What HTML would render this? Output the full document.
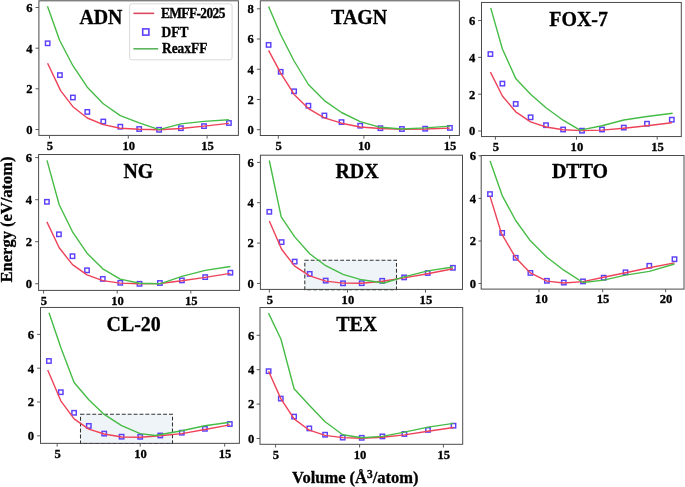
<!DOCTYPE html>
<html><head><meta charset="utf-8"><title>EOS curves</title>
<style>
html,body{margin:0;padding:0;background:#fff;}
body{width:685px;height:487px;overflow:hidden;}
svg{display:block;will-change:transform;}
text{font-family:'Liberation Serif', serif;font-weight:bold;fill:#000;stroke:#000;stroke-width:0.3px;}
.t{font-size:12.6px;}
.ttl{font-size:19.9px;}
.lg{font-size:13.4px;}
.al{font-size:16.5px;}
</style></head>
<body>
<svg width="685" height="487" viewBox="0 0 685 487">
<rect width="685" height="487" fill="#fff"/>
<rect x="45.45" y="41.10" width="4.4" height="4.4" fill="none" stroke="#5c40fa" stroke-width="1.45"/>
<rect x="57.70" y="72.90" width="4.4" height="4.4" fill="none" stroke="#5c40fa" stroke-width="1.45"/>
<rect x="70.70" y="95.30" width="4.4" height="4.4" fill="none" stroke="#5c40fa" stroke-width="1.45"/>
<rect x="85.10" y="109.70" width="4.4" height="4.4" fill="none" stroke="#5c40fa" stroke-width="1.45"/>
<rect x="101.10" y="119.30" width="4.4" height="4.4" fill="none" stroke="#5c40fa" stroke-width="1.45"/>
<rect x="118.10" y="124.50" width="4.4" height="4.4" fill="none" stroke="#5c40fa" stroke-width="1.45"/>
<rect x="137.00" y="126.80" width="4.4" height="4.4" fill="none" stroke="#5c40fa" stroke-width="1.45"/>
<rect x="156.90" y="127.60" width="4.4" height="4.4" fill="none" stroke="#5c40fa" stroke-width="1.45"/>
<rect x="178.70" y="126.00" width="4.4" height="4.4" fill="none" stroke="#5c40fa" stroke-width="1.45"/>
<rect x="201.80" y="123.90" width="4.4" height="4.4" fill="none" stroke="#5c40fa" stroke-width="1.45"/>
<rect x="226.70" y="120.80" width="4.4" height="4.4" fill="none" stroke="#5c40fa" stroke-width="1.45"/>
<polyline points="47.6,63.2 60.6,90.6 72.9,106.7 87.3,118.0 103.3,124.6 120.3,128.3 139.2,129.3 159.1,129.8 180.9,128.5 204.0,126.1 228.9,123.4" fill="none" stroke="#ee4259" stroke-width="1.4" stroke-linejoin="round"/>
<polyline points="47.5,6.3 59.6,40.3 72.9,65.7 87.3,87.2 103.3,103.7 120.3,115.6 139.2,122.8 159.1,129.6 180.9,123.9 204.0,121.4 228.9,119.8" fill="none" stroke="#46bc46" stroke-width="1.4" stroke-linejoin="round"/>
<rect x="38.9" y="0.8" width="199.5" height="134.6" fill="none" stroke="#4a4a4a" stroke-width="1"/>
<line x1="35.5" y1="7.5" x2="38.9" y2="7.5" stroke="#4a4a4a" stroke-width="0.9"/>
<text transform="translate(32.6,11.8) scale(1,1.05)" text-anchor="end" class="t">6</text>
<line x1="35.5" y1="48.2" x2="38.9" y2="48.2" stroke="#4a4a4a" stroke-width="0.9"/>
<text transform="translate(32.6,52.5) scale(1,1.05)" text-anchor="end" class="t">4</text>
<line x1="35.5" y1="88.8" x2="38.9" y2="88.8" stroke="#4a4a4a" stroke-width="0.9"/>
<text transform="translate(32.6,93.1) scale(1,1.05)" text-anchor="end" class="t">2</text>
<line x1="35.5" y1="129.5" x2="38.9" y2="129.5" stroke="#4a4a4a" stroke-width="0.9"/>
<text transform="translate(32.6,133.8) scale(1,1.05)" text-anchor="end" class="t">0</text>
<line x1="49.5" y1="135.45" x2="49.5" y2="138.6" stroke="#4a4a4a" stroke-width="0.9"/>
<text transform="translate(49.9,149.6) scale(1,1.05)" text-anchor="middle" class="t">5</text>
<line x1="128.3" y1="135.45" x2="128.3" y2="138.6" stroke="#4a4a4a" stroke-width="0.9"/>
<text transform="translate(128.7,149.6) scale(1,1.05)" text-anchor="middle" class="t">10</text>
<line x1="207.1" y1="135.45" x2="207.1" y2="138.6" stroke="#4a4a4a" stroke-width="0.9"/>
<text transform="translate(207.5,149.6) scale(1,1.05)" text-anchor="middle" class="t">15</text>
<text transform="translate(79.4,24.1) scale(1,1.03)" class="ttl">ADN</text>
<rect x="129.6" y="3.8" width="102.5" height="56" rx="2.5" ry="2.5" fill="#fff" fill-opacity="0.8" stroke="#d6d6d6" stroke-width="0.9"/>
<line x1="133.4" y1="13.35" x2="154.2" y2="13.35" stroke="#dc4860" stroke-width="1.6"/>
<rect x="142.7" y="28.9" width="6.2" height="6.2" fill="none" stroke="#5c40fa" stroke-width="1.6"/>
<line x1="133.4" y1="48.8" x2="158.2" y2="48.8" stroke="#5cb45c" stroke-width="1.6"/>
<text transform="translate(161,18.2) scale(1,1.05)" class="lg" letter-spacing="-0.6">EMFF-2025</text>
<text transform="translate(161.6,36.8) scale(1,1.05)" class="lg">DFT</text>
<text transform="translate(162,53.4) scale(1,1.05)" class="lg">ReaxFF</text>
<rect x="266.40" y="42.70" width="4.4" height="4.4" fill="none" stroke="#5c40fa" stroke-width="1.45"/>
<rect x="278.50" y="69.60" width="4.4" height="4.4" fill="none" stroke="#5c40fa" stroke-width="1.45"/>
<rect x="291.90" y="89.10" width="4.4" height="4.4" fill="none" stroke="#5c40fa" stroke-width="1.45"/>
<rect x="306.20" y="103.50" width="4.4" height="4.4" fill="none" stroke="#5c40fa" stroke-width="1.45"/>
<rect x="322.20" y="113.30" width="4.4" height="4.4" fill="none" stroke="#5c40fa" stroke-width="1.45"/>
<rect x="339.30" y="119.90" width="4.4" height="4.4" fill="none" stroke="#5c40fa" stroke-width="1.45"/>
<rect x="358.00" y="123.50" width="4.4" height="4.4" fill="none" stroke="#5c40fa" stroke-width="1.45"/>
<rect x="378.20" y="126.00" width="4.4" height="4.4" fill="none" stroke="#5c40fa" stroke-width="1.45"/>
<rect x="399.70" y="126.80" width="4.4" height="4.4" fill="none" stroke="#5c40fa" stroke-width="1.45"/>
<rect x="423.00" y="126.50" width="4.4" height="4.4" fill="none" stroke="#5c40fa" stroke-width="1.45"/>
<rect x="447.70" y="125.70" width="4.4" height="4.4" fill="none" stroke="#5c40fa" stroke-width="1.45"/>
<polyline points="268.6,50.3 280.7,73.2 294.1,94.4 308.4,108.6 324.4,117.8 341.5,123.2 360.2,127.0 380.4,128.5 401.9,129.3 425.2,129.0 449.9,128.1" fill="none" stroke="#ee4259" stroke-width="1.4" stroke-linejoin="round"/>
<polyline points="268.6,6.4 280.7,34.8 294.1,61.0 308.4,84.5 324.4,100.6 341.5,112.5 360.2,121.7 380.4,127.3 401.9,129.0 425.2,127.9 449.9,126.1" fill="none" stroke="#46bc46" stroke-width="1.4" stroke-linejoin="round"/>
<rect x="260.3" y="0.8" width="199.1" height="134.7" fill="none" stroke="#4a4a4a" stroke-width="1"/>
<line x1="256.9" y1="8.8" x2="260.3" y2="8.8" stroke="#4a4a4a" stroke-width="0.9"/>
<text transform="translate(253.8,13.1) scale(1,1.05)" text-anchor="end" class="t">8</text>
<line x1="256.9" y1="39.0" x2="260.3" y2="39.0" stroke="#4a4a4a" stroke-width="0.9"/>
<text transform="translate(253.8,43.3) scale(1,1.05)" text-anchor="end" class="t">6</text>
<line x1="256.9" y1="69.25" x2="260.3" y2="69.25" stroke="#4a4a4a" stroke-width="0.9"/>
<text transform="translate(253.8,73.5) scale(1,1.05)" text-anchor="end" class="t">4</text>
<line x1="256.9" y1="99.5" x2="260.3" y2="99.5" stroke="#4a4a4a" stroke-width="0.9"/>
<text transform="translate(253.8,103.8) scale(1,1.05)" text-anchor="end" class="t">2</text>
<line x1="256.9" y1="129.7" x2="260.3" y2="129.7" stroke="#4a4a4a" stroke-width="0.9"/>
<text transform="translate(253.8,134.0) scale(1,1.05)" text-anchor="end" class="t">0</text>
<line x1="278.3" y1="135.5" x2="278.3" y2="138.7" stroke="#4a4a4a" stroke-width="0.9"/>
<text transform="translate(278.7,149.7) scale(1,1.05)" text-anchor="middle" class="t">5</text>
<line x1="363.9" y1="135.5" x2="363.9" y2="138.7" stroke="#4a4a4a" stroke-width="0.9"/>
<text transform="translate(364.3,149.7) scale(1,1.05)" text-anchor="middle" class="t">10</text>
<line x1="449.6" y1="135.5" x2="449.6" y2="138.7" stroke="#4a4a4a" stroke-width="0.9"/>
<text transform="translate(450.0,149.7) scale(1,1.05)" text-anchor="middle" class="t">15</text>
<text transform="translate(331.1,23.9) scale(1,1.03)" class="ttl">TAGN</text>
<rect x="488.20" y="51.90" width="4.4" height="4.4" fill="none" stroke="#5c40fa" stroke-width="1.45"/>
<rect x="500.20" y="81.40" width="4.4" height="4.4" fill="none" stroke="#5c40fa" stroke-width="1.45"/>
<rect x="513.50" y="101.70" width="4.4" height="4.4" fill="none" stroke="#5c40fa" stroke-width="1.45"/>
<rect x="528.40" y="115.10" width="4.4" height="4.4" fill="none" stroke="#5c40fa" stroke-width="1.45"/>
<rect x="543.80" y="123.00" width="4.4" height="4.4" fill="none" stroke="#5c40fa" stroke-width="1.45"/>
<rect x="560.90" y="127.30" width="4.4" height="4.4" fill="none" stroke="#5c40fa" stroke-width="1.45"/>
<rect x="579.80" y="128.50" width="4.4" height="4.4" fill="none" stroke="#5c40fa" stroke-width="1.45"/>
<rect x="599.80" y="127.30" width="4.4" height="4.4" fill="none" stroke="#5c40fa" stroke-width="1.45"/>
<rect x="621.60" y="125.40" width="4.4" height="4.4" fill="none" stroke="#5c40fa" stroke-width="1.45"/>
<rect x="644.80" y="121.50" width="4.4" height="4.4" fill="none" stroke="#5c40fa" stroke-width="1.45"/>
<rect x="669.60" y="117.50" width="4.4" height="4.4" fill="none" stroke="#5c40fa" stroke-width="1.45"/>
<polyline points="490.4,72.1 502.4,96.0 515.7,111.8 530.6,121.8 546.0,127.0 563.1,129.7 582.0,130.6 602.0,130.1 623.8,128.2 647.0,125.7 671.8,122.8" fill="none" stroke="#ee4259" stroke-width="1.4" stroke-linejoin="round"/>
<polyline points="490.7,7.9 502.4,49.0 515.7,78.4 530.6,94.2 546.0,107.8 563.1,120.2 580.0,130.1 602.0,125.7 623.8,120.0 647.0,116.5 672.6,113.3" fill="none" stroke="#46bc46" stroke-width="1.4" stroke-linejoin="round"/>
<rect x="481.5" y="2.45" width="199.8" height="134.1" fill="none" stroke="#4a4a4a" stroke-width="1"/>
<line x1="478.1" y1="20.55" x2="481.5" y2="20.55" stroke="#4a4a4a" stroke-width="0.9"/>
<text transform="translate(475.4,24.9) scale(1,1.05)" text-anchor="end" class="t">6</text>
<line x1="478.1" y1="57.35" x2="481.5" y2="57.35" stroke="#4a4a4a" stroke-width="0.9"/>
<text transform="translate(475.4,61.6) scale(1,1.05)" text-anchor="end" class="t">4</text>
<line x1="478.1" y1="94.2" x2="481.5" y2="94.2" stroke="#4a4a4a" stroke-width="0.9"/>
<text transform="translate(475.4,98.5) scale(1,1.05)" text-anchor="end" class="t">2</text>
<line x1="478.1" y1="131.0" x2="481.5" y2="131.0" stroke="#4a4a4a" stroke-width="0.9"/>
<text transform="translate(475.4,135.3) scale(1,1.05)" text-anchor="end" class="t">0</text>
<line x1="495.4" y1="136.5" x2="495.4" y2="139.7" stroke="#4a4a4a" stroke-width="0.9"/>
<text transform="translate(495.8,150.7) scale(1,1.05)" text-anchor="middle" class="t">5</text>
<line x1="576.5" y1="136.5" x2="576.5" y2="139.7" stroke="#4a4a4a" stroke-width="0.9"/>
<text transform="translate(576.9,150.7) scale(1,1.05)" text-anchor="middle" class="t">10</text>
<line x1="657.2" y1="136.5" x2="657.2" y2="139.7" stroke="#4a4a4a" stroke-width="0.9"/>
<text transform="translate(657.6,150.7) scale(1,1.05)" text-anchor="middle" class="t">15</text>
<text transform="translate(549.3,26.3) scale(1,1.03)" class="ttl">FOX-7</text>
<rect x="44.70" y="199.60" width="4.4" height="4.4" fill="none" stroke="#5c40fa" stroke-width="1.45"/>
<rect x="56.70" y="232.10" width="4.4" height="4.4" fill="none" stroke="#5c40fa" stroke-width="1.45"/>
<rect x="70.30" y="254.00" width="4.4" height="4.4" fill="none" stroke="#5c40fa" stroke-width="1.45"/>
<rect x="84.80" y="268.10" width="4.4" height="4.4" fill="none" stroke="#5c40fa" stroke-width="1.45"/>
<rect x="100.60" y="276.70" width="4.4" height="4.4" fill="none" stroke="#5c40fa" stroke-width="1.45"/>
<rect x="118.10" y="280.60" width="4.4" height="4.4" fill="none" stroke="#5c40fa" stroke-width="1.45"/>
<rect x="137.30" y="281.60" width="4.4" height="4.4" fill="none" stroke="#5c40fa" stroke-width="1.45"/>
<rect x="157.70" y="280.80" width="4.4" height="4.4" fill="none" stroke="#5c40fa" stroke-width="1.45"/>
<rect x="179.70" y="278.20" width="4.4" height="4.4" fill="none" stroke="#5c40fa" stroke-width="1.45"/>
<rect x="203.00" y="274.90" width="4.4" height="4.4" fill="none" stroke="#5c40fa" stroke-width="1.45"/>
<rect x="228.20" y="270.50" width="4.4" height="4.4" fill="none" stroke="#5c40fa" stroke-width="1.45"/>
<polyline points="46.9,221.9 59.2,247.8 72.5,264.6 87.0,274.9 102.8,280.6 120.3,283.1 139.5,283.8 159.9,283.5 181.9,280.8 205.2,277.4 230.4,273.4" fill="none" stroke="#ee4259" stroke-width="1.4" stroke-linejoin="round"/>
<polyline points="47.0,160.4 59.2,204.7 72.5,231.8 87.0,253.2 102.8,268.8 120.3,279.1 139.5,283.3 159.9,283.8 181.9,276.4 205.2,270.4 230.4,266.5" fill="none" stroke="#46bc46" stroke-width="1.4" stroke-linejoin="round"/>
<rect x="38.6" y="154.5" width="201.0" height="135.9" fill="none" stroke="#4a4a4a" stroke-width="1"/>
<line x1="35.2" y1="157.6" x2="38.6" y2="157.6" stroke="#4a4a4a" stroke-width="0.9"/>
<text transform="translate(32.1,161.9) scale(1,1.05)" text-anchor="end" class="t">6</text>
<line x1="35.2" y1="199.7" x2="38.6" y2="199.7" stroke="#4a4a4a" stroke-width="0.9"/>
<text transform="translate(32.1,204.0) scale(1,1.05)" text-anchor="end" class="t">4</text>
<line x1="35.2" y1="241.7" x2="38.6" y2="241.7" stroke="#4a4a4a" stroke-width="0.9"/>
<text transform="translate(32.1,246.0) scale(1,1.05)" text-anchor="end" class="t">2</text>
<line x1="35.2" y1="283.75" x2="38.6" y2="283.75" stroke="#4a4a4a" stroke-width="0.9"/>
<text transform="translate(32.1,288.1) scale(1,1.05)" text-anchor="end" class="t">0</text>
<line x1="43.6" y1="290.4" x2="43.6" y2="293.6" stroke="#4a4a4a" stroke-width="0.9"/>
<text transform="translate(44.0,304.6) scale(1,1.05)" text-anchor="middle" class="t">5</text>
<line x1="117.2" y1="290.4" x2="117.2" y2="293.6" stroke="#4a4a4a" stroke-width="0.9"/>
<text transform="translate(117.6,304.6) scale(1,1.05)" text-anchor="middle" class="t">10</text>
<line x1="190.8" y1="290.4" x2="190.8" y2="293.6" stroke="#4a4a4a" stroke-width="0.9"/>
<text transform="translate(191.2,304.6) scale(1,1.05)" text-anchor="middle" class="t">15</text>
<text transform="translate(123.4,178.4) scale(1,1.03)" class="ttl">NG</text>
<rect x="304.8" y="260.2" width="91.7" height="29.5" fill="#eff4f8" stroke="#333" stroke-width="1.05" stroke-dasharray="3.9,2"/>
<rect x="267.10" y="209.60" width="4.4" height="4.4" fill="none" stroke="#5c40fa" stroke-width="1.45"/>
<rect x="279.40" y="239.90" width="4.4" height="4.4" fill="none" stroke="#5c40fa" stroke-width="1.45"/>
<rect x="292.50" y="259.40" width="4.4" height="4.4" fill="none" stroke="#5c40fa" stroke-width="1.45"/>
<rect x="307.50" y="271.70" width="4.4" height="4.4" fill="none" stroke="#5c40fa" stroke-width="1.45"/>
<rect x="323.50" y="278.40" width="4.4" height="4.4" fill="none" stroke="#5c40fa" stroke-width="1.45"/>
<rect x="340.80" y="281.10" width="4.4" height="4.4" fill="none" stroke="#5c40fa" stroke-width="1.45"/>
<rect x="359.50" y="281.00" width="4.4" height="4.4" fill="none" stroke="#5c40fa" stroke-width="1.45"/>
<rect x="380.00" y="278.60" width="4.4" height="4.4" fill="none" stroke="#5c40fa" stroke-width="1.45"/>
<rect x="401.90" y="275.20" width="4.4" height="4.4" fill="none" stroke="#5c40fa" stroke-width="1.45"/>
<rect x="425.50" y="270.80" width="4.4" height="4.4" fill="none" stroke="#5c40fa" stroke-width="1.45"/>
<rect x="450.70" y="265.60" width="4.4" height="4.4" fill="none" stroke="#5c40fa" stroke-width="1.45"/>
<polyline points="269.3,221.0 281.6,249.3 294.7,266.1 309.7,275.9 325.7,281.1 343.0,283.1 361.7,283.3 382.2,281.3 404.1,277.9 427.7,273.7 452.9,268.7" fill="none" stroke="#ee4259" stroke-width="1.4" stroke-linejoin="round"/>
<polyline points="269.3,160.5 281.2,216.8 294.7,236.9 309.7,253.8 325.7,265.7 343.0,274.3 361.7,279.8 384.0,283.0 404.1,276.9 427.7,270.9 452.9,267.0" fill="none" stroke="#46bc46" stroke-width="1.4" stroke-linejoin="round"/>
<rect x="260.4" y="155.2" width="202.1" height="134.2" fill="none" stroke="#4a4a4a" stroke-width="1"/>
<line x1="257.0" y1="162.4" x2="260.4" y2="162.4" stroke="#4a4a4a" stroke-width="0.9"/>
<text transform="translate(253.9,166.7) scale(1,1.05)" text-anchor="end" class="t">6</text>
<line x1="257.0" y1="202.7" x2="260.4" y2="202.7" stroke="#4a4a4a" stroke-width="0.9"/>
<text transform="translate(253.9,207.0) scale(1,1.05)" text-anchor="end" class="t">4</text>
<line x1="257.0" y1="243.1" x2="260.4" y2="243.1" stroke="#4a4a4a" stroke-width="0.9"/>
<text transform="translate(253.9,247.4) scale(1,1.05)" text-anchor="end" class="t">2</text>
<line x1="257.0" y1="283.4" x2="260.4" y2="283.4" stroke="#4a4a4a" stroke-width="0.9"/>
<text transform="translate(253.9,287.7) scale(1,1.05)" text-anchor="end" class="t">0</text>
<line x1="269.4" y1="289.4" x2="269.4" y2="292.6" stroke="#4a4a4a" stroke-width="0.9"/>
<text transform="translate(269.8,303.6) scale(1,1.05)" text-anchor="middle" class="t">5</text>
<line x1="347.5" y1="289.4" x2="347.5" y2="292.6" stroke="#4a4a4a" stroke-width="0.9"/>
<text transform="translate(347.9,303.6) scale(1,1.05)" text-anchor="middle" class="t">10</text>
<line x1="425.5" y1="289.4" x2="425.5" y2="292.6" stroke="#4a4a4a" stroke-width="0.9"/>
<text transform="translate(425.9,303.6) scale(1,1.05)" text-anchor="middle" class="t">15</text>
<text transform="translate(335.5,178.4) scale(1,1.03)" class="ttl">RDX</text>
<rect x="487.80" y="191.90" width="4.4" height="4.4" fill="none" stroke="#5c40fa" stroke-width="1.45"/>
<rect x="500.00" y="230.70" width="4.4" height="4.4" fill="none" stroke="#5c40fa" stroke-width="1.45"/>
<rect x="513.50" y="255.60" width="4.4" height="4.4" fill="none" stroke="#5c40fa" stroke-width="1.45"/>
<rect x="528.20" y="270.70" width="4.4" height="4.4" fill="none" stroke="#5c40fa" stroke-width="1.45"/>
<rect x="544.70" y="278.60" width="4.4" height="4.4" fill="none" stroke="#5c40fa" stroke-width="1.45"/>
<rect x="561.60" y="280.40" width="4.4" height="4.4" fill="none" stroke="#5c40fa" stroke-width="1.45"/>
<rect x="580.80" y="279.20" width="4.4" height="4.4" fill="none" stroke="#5c40fa" stroke-width="1.45"/>
<rect x="601.50" y="275.50" width="4.4" height="4.4" fill="none" stroke="#5c40fa" stroke-width="1.45"/>
<rect x="623.30" y="270.10" width="4.4" height="4.4" fill="none" stroke="#5c40fa" stroke-width="1.45"/>
<rect x="647.10" y="263.60" width="4.4" height="4.4" fill="none" stroke="#5c40fa" stroke-width="1.45"/>
<rect x="672.30" y="257.00" width="4.4" height="4.4" fill="none" stroke="#5c40fa" stroke-width="1.45"/>
<polyline points="490.1,196.6 501.4,233.3 515.7,257.8 530.4,272.9 546.9,281.1 563.8,283.0 583.0,281.6 603.7,277.3 625.5,272.7 649.3,267.7 674.5,262.9" fill="none" stroke="#ee4259" stroke-width="1.4" stroke-linejoin="round"/>
<polyline points="490.1,161.1 502.2,195.6 515.7,220.5 530.4,240.8 546.9,257.3 563.8,270.2 583.0,282.5 603.7,280.1 625.5,275.1 649.3,271.4 674.5,264.0" fill="none" stroke="#46bc46" stroke-width="1.4" stroke-linejoin="round"/>
<rect x="481.2" y="155.5" width="202.8" height="133.6" fill="none" stroke="#4a4a4a" stroke-width="1"/>
<line x1="478.5" y1="155.8" x2="481.2" y2="155.8" stroke="#4a4a4a" stroke-width="0.9"/>
<text transform="translate(476.1,160.1) scale(1,1.05)" text-anchor="end" class="t">6</text>
<line x1="478.5" y1="198.4" x2="481.2" y2="198.4" stroke="#4a4a4a" stroke-width="0.9"/>
<text transform="translate(476.1,202.7) scale(1,1.05)" text-anchor="end" class="t">4</text>
<line x1="478.5" y1="241.0" x2="481.2" y2="241.0" stroke="#4a4a4a" stroke-width="0.9"/>
<text transform="translate(476.1,245.3) scale(1,1.05)" text-anchor="end" class="t">2</text>
<line x1="478.5" y1="283.5" x2="481.2" y2="283.5" stroke="#4a4a4a" stroke-width="0.9"/>
<text transform="translate(476.1,287.8) scale(1,1.05)" text-anchor="end" class="t">0</text>
<line x1="539.0" y1="289.1" x2="539.0" y2="292.3" stroke="#4a4a4a" stroke-width="0.9"/>
<text transform="translate(541.4,303.3) scale(1,1.05)" text-anchor="middle" class="t">10</text>
<line x1="602.7" y1="289.1" x2="602.7" y2="292.3" stroke="#4a4a4a" stroke-width="0.9"/>
<text transform="translate(603.1,303.3) scale(1,1.05)" text-anchor="middle" class="t">15</text>
<line x1="665.6" y1="289.1" x2="665.6" y2="292.3" stroke="#4a4a4a" stroke-width="0.9"/>
<text transform="translate(666.0,303.3) scale(1,1.05)" text-anchor="middle" class="t">20</text>
<text transform="translate(552.0,178.3) scale(1,1.03)" class="ttl">DTTO</text>
<rect x="80.5" y="414.3" width="92.0" height="29.2" fill="#eff4f8" stroke="#333" stroke-width="1.05" stroke-dasharray="3.9,2"/>
<rect x="46.70" y="358.80" width="4.4" height="4.4" fill="none" stroke="#5c40fa" stroke-width="1.45"/>
<rect x="58.60" y="390.00" width="4.4" height="4.4" fill="none" stroke="#5c40fa" stroke-width="1.45"/>
<rect x="71.90" y="410.60" width="4.4" height="4.4" fill="none" stroke="#5c40fa" stroke-width="1.45"/>
<rect x="86.60" y="423.70" width="4.4" height="4.4" fill="none" stroke="#5c40fa" stroke-width="1.45"/>
<rect x="102.00" y="431.40" width="4.4" height="4.4" fill="none" stroke="#5c40fa" stroke-width="1.45"/>
<rect x="119.40" y="434.50" width="4.4" height="4.4" fill="none" stroke="#5c40fa" stroke-width="1.45"/>
<rect x="138.00" y="434.60" width="4.4" height="4.4" fill="none" stroke="#5c40fa" stroke-width="1.45"/>
<rect x="158.10" y="433.30" width="4.4" height="4.4" fill="none" stroke="#5c40fa" stroke-width="1.45"/>
<rect x="179.60" y="430.50" width="4.4" height="4.4" fill="none" stroke="#5c40fa" stroke-width="1.45"/>
<rect x="202.70" y="426.60" width="4.4" height="4.4" fill="none" stroke="#5c40fa" stroke-width="1.45"/>
<rect x="227.60" y="421.80" width="4.4" height="4.4" fill="none" stroke="#5c40fa" stroke-width="1.45"/>
<polyline points="47.7,370.1 60.8,400.8 74.1,418.9 88.8,429.1 104.2,434.0 121.6,437.0 140.2,437.3 160.3,435.8 181.8,433.6 204.9,429.5 229.8,424.9" fill="none" stroke="#ee4259" stroke-width="1.4" stroke-linejoin="round"/>
<polyline points="49.0,312.7 61.0,348.0 74.1,382.5 88.8,399.7 104.2,414.4 121.6,425.7 140.2,433.6 155.3,435.5 181.8,430.8 204.9,425.8 229.8,422.2" fill="none" stroke="#46bc46" stroke-width="1.4" stroke-linejoin="round"/>
<rect x="40.5" y="307.45" width="198.9" height="135.9" fill="none" stroke="#4a4a4a" stroke-width="1"/>
<line x1="37.1" y1="334.4" x2="40.5" y2="334.4" stroke="#4a4a4a" stroke-width="0.9"/>
<text transform="translate(34.0,338.7) scale(1,1.05)" text-anchor="end" class="t">6</text>
<line x1="37.1" y1="368.2" x2="40.5" y2="368.2" stroke="#4a4a4a" stroke-width="0.9"/>
<text transform="translate(34.0,372.5) scale(1,1.05)" text-anchor="end" class="t">4</text>
<line x1="37.1" y1="402.0" x2="40.5" y2="402.0" stroke="#4a4a4a" stroke-width="0.9"/>
<text transform="translate(34.0,406.3) scale(1,1.05)" text-anchor="end" class="t">2</text>
<line x1="37.1" y1="435.8" x2="40.5" y2="435.8" stroke="#4a4a4a" stroke-width="0.9"/>
<text transform="translate(34.0,440.1) scale(1,1.05)" text-anchor="end" class="t">0</text>
<line x1="57.2" y1="443.4" x2="57.2" y2="446.6" stroke="#4a4a4a" stroke-width="0.9"/>
<text transform="translate(57.6,457.6) scale(1,1.05)" text-anchor="middle" class="t">5</text>
<line x1="140.2" y1="443.4" x2="140.2" y2="446.6" stroke="#4a4a4a" stroke-width="0.9"/>
<text transform="translate(140.6,457.6) scale(1,1.05)" text-anchor="middle" class="t">10</text>
<line x1="224.7" y1="443.4" x2="224.7" y2="446.6" stroke="#4a4a4a" stroke-width="0.9"/>
<text transform="translate(225.1,457.6) scale(1,1.05)" text-anchor="middle" class="t">15</text>
<text transform="translate(106.6,331.2) scale(1,1.03)" class="ttl">CL-20</text>
<rect x="266.40" y="369.00" width="4.4" height="4.4" fill="none" stroke="#5c40fa" stroke-width="1.45"/>
<rect x="278.60" y="396.40" width="4.4" height="4.4" fill="none" stroke="#5c40fa" stroke-width="1.45"/>
<rect x="291.90" y="414.40" width="4.4" height="4.4" fill="none" stroke="#5c40fa" stroke-width="1.45"/>
<rect x="307.10" y="426.20" width="4.4" height="4.4" fill="none" stroke="#5c40fa" stroke-width="1.45"/>
<rect x="322.90" y="432.50" width="4.4" height="4.4" fill="none" stroke="#5c40fa" stroke-width="1.45"/>
<rect x="340.50" y="435.40" width="4.4" height="4.4" fill="none" stroke="#5c40fa" stroke-width="1.45"/>
<rect x="359.50" y="435.60" width="4.4" height="4.4" fill="none" stroke="#5c40fa" stroke-width="1.45"/>
<rect x="380.20" y="434.20" width="4.4" height="4.4" fill="none" stroke="#5c40fa" stroke-width="1.45"/>
<rect x="402.20" y="431.80" width="4.4" height="4.4" fill="none" stroke="#5c40fa" stroke-width="1.45"/>
<rect x="425.80" y="427.70" width="4.4" height="4.4" fill="none" stroke="#5c40fa" stroke-width="1.45"/>
<rect x="451.30" y="423.50" width="4.4" height="4.4" fill="none" stroke="#5c40fa" stroke-width="1.45"/>
<polyline points="268.6,371.2 280.8,398.6 294.1,418.9 309.3,430.2 325.1,435.4 342.7,437.6 361.7,438.2 382.4,437.3 404.4,434.9 428.0,431.2 453.5,427.5" fill="none" stroke="#ee4259" stroke-width="1.4" stroke-linejoin="round"/>
<polyline points="268.5,313.1 280.9,339.0 294.1,388.7 309.3,405.3 325.1,421.8 342.7,434.7 361.7,437.7 382.4,436.4 404.4,432.1 428.0,427.1 453.5,423.4" fill="none" stroke="#46bc46" stroke-width="1.4" stroke-linejoin="round"/>
<rect x="260.0" y="307.5" width="202.7" height="136.8" fill="none" stroke="#4a4a4a" stroke-width="1"/>
<line x1="256.6" y1="335.3" x2="260.0" y2="335.3" stroke="#4a4a4a" stroke-width="0.9"/>
<text transform="translate(254.4,339.6) scale(1,1.05)" text-anchor="end" class="t">6</text>
<line x1="256.6" y1="369.7" x2="260.0" y2="369.7" stroke="#4a4a4a" stroke-width="0.9"/>
<text transform="translate(254.4,374.0) scale(1,1.05)" text-anchor="end" class="t">4</text>
<line x1="256.6" y1="404.1" x2="260.0" y2="404.1" stroke="#4a4a4a" stroke-width="0.9"/>
<text transform="translate(254.4,408.4) scale(1,1.05)" text-anchor="end" class="t">2</text>
<line x1="256.6" y1="438.5" x2="260.0" y2="438.5" stroke="#4a4a4a" stroke-width="0.9"/>
<text transform="translate(254.4,442.8) scale(1,1.05)" text-anchor="end" class="t">0</text>
<line x1="275.6" y1="444.3" x2="275.6" y2="447.5" stroke="#4a4a4a" stroke-width="0.9"/>
<text transform="translate(276.0,458.5) scale(1,1.05)" text-anchor="middle" class="t">5</text>
<line x1="359.6" y1="444.3" x2="359.6" y2="447.5" stroke="#4a4a4a" stroke-width="0.9"/>
<text transform="translate(360.0,458.5) scale(1,1.05)" text-anchor="middle" class="t">10</text>
<line x1="443.4" y1="444.3" x2="443.4" y2="447.5" stroke="#4a4a4a" stroke-width="0.9"/>
<text transform="translate(443.8,458.5) scale(1,1.05)" text-anchor="middle" class="t">15</text>
<text transform="translate(336.3,331.0) scale(1,1.03)" class="ttl">TEX</text>
<text class="al" transform="translate(12.3,282.4) rotate(-90)">Energy (eV/atom)</text>
<text class="al" x="292" y="483.4">Volume (&#197;<tspan font-size="11.5px" dy="-5.6">3</tspan><tspan dy="5.6">/atom)</tspan></text>
</svg>
</body></html>
